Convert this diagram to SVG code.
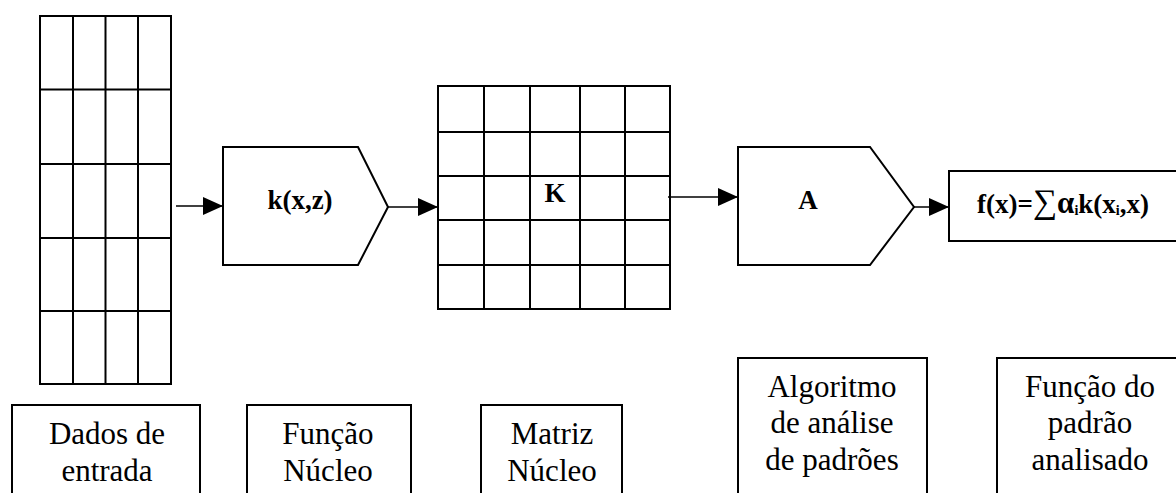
<svg xmlns="http://www.w3.org/2000/svg" width="1176" height="493" viewBox="0 0 1176 493">
  <style>
    .grid { fill: none; stroke: #000; stroke-width: 2; }
    .shape { fill: #fff; stroke: #000; stroke-width: 2; }
    .wire { fill: none; stroke: #000; stroke-width: 1.6; }
    .bold { font-family: 'Liberation Serif', serif; font-weight: bold; font-size: 27px; fill: #000; }
    .label { font-family: 'Liberation Serif', serif; font-size: 31px; fill: #000; text-anchor: middle; }
  </style>
  <defs>
    <marker id="head" viewBox="0 0 20 18" refX="20" refY="9" markerWidth="20" markerHeight="18" markerUnits="userSpaceOnUse" orient="auto">
      <path d="M0,0 L20,9 L0,18 Z" fill="#000"/>
    </marker>
  </defs>

  <rect width="1176" height="493" fill="#fff"/>

  <!-- input data: 4 x 5 table -->
  <g id="input-data">
    <rect class="grid" x="40" y="16" width="131" height="368"/>
    <path class="grid" d="M73,16 V384 M105.5,16 V384 M138,16 V384 M40,89.5 H171 M40,164 H171 M40,238 H171 M40,311 H171"/>
  </g>

  <!-- kernel function -->
  <g id="kernel-function">
    <path class="shape" d="M223,147 H358 L388,207 L358,265 H223 Z"/>
    <text class="bold" x="300" y="209" text-anchor="middle">k(x,z)</text>
  </g>

  <!-- kernel matrix: 5 x 5 -->
  <g id="kernel-matrix">
    <rect class="grid" x="438" y="86" width="232" height="223"/>
    <path class="grid" d="M484,86 V309 M530,86 V309 M580,86 V309 M625,86 V309 M438,132 H670 M438,176 H670 M438,220 H670 M438,265 H670"/>
    <text class="bold" x="555" y="202" text-anchor="middle">K</text>
  </g>

  <!-- pattern analysis algorithm -->
  <g id="algorithm">
    <path class="shape" d="M738,147 H870 L914,207 L870,265 H738 Z"/>
    <text class="bold" x="808" y="209" text-anchor="middle">A</text>
  </g>

  <!-- resulting pattern function -->
  <g id="pattern-function">
    <rect class="shape" x="949" y="171" width="240" height="70"/>
    <text class="bold" x="977" y="213">f(x)=<tspan font-weight="normal" font-size="34">∑</tspan><tspan font-size="31">α</tspan><tspan font-size="14" dy="2">i</tspan><tspan dy="-2">k(x</tspan><tspan font-size="14" dy="2">i</tspan><tspan dy="-2">,x)</tspan></text>
  </g>

  <!-- connectors -->
  <g id="connectors">
    <path class="wire" d="M176,206 H223" marker-end="url(#head)"/>
    <path class="wire" d="M388,207 H438" marker-end="url(#head)"/>
    <path class="wire" d="M668,197 H738" marker-end="url(#head)"/>
    <path class="wire" d="M914,207 H949" marker-end="url(#head)"/>
  </g>

  <!-- captions -->
  <g id="caption-input">
    <rect class="shape" x="12" y="405" width="188" height="100"/>
    <text class="label" x="107" y="444">Dados de</text>
    <text class="label" x="107" y="481">entrada</text>
  </g>
  <g id="caption-kernel-function">
    <rect class="shape" x="247" y="405" width="164" height="100"/>
    <text class="label" x="328" y="444">Função</text>
    <text class="label" x="328" y="481">Núcleo</text>
  </g>
  <g id="caption-kernel-matrix">
    <rect class="shape" x="481" y="405" width="141" height="100"/>
    <text class="label" x="552" y="444">Matriz</text>
    <text class="label" x="552" y="481">Núcleo</text>
  </g>
  <g id="caption-algorithm">
    <rect class="shape" x="738" y="358" width="189" height="150"/>
    <text class="label" x="832" y="397">Algoritmo</text>
    <text class="label" x="832" y="433">de análise</text>
    <text class="label" x="832" y="470">de padrões</text>
  </g>
  <g id="caption-pattern-function">
    <rect class="shape" x="997" y="358" width="200" height="150"/>
    <text class="label" x="1090" y="397">Função do</text>
    <text class="label" x="1090" y="433">padrão</text>
    <text class="label" x="1090" y="470">analisado</text>
  </g>
</svg>
